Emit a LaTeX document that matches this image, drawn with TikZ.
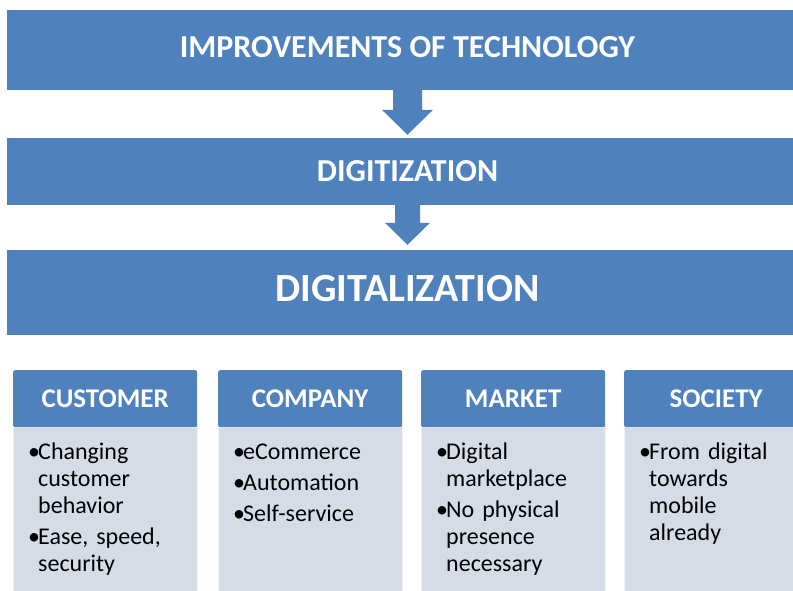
\documentclass[tikz,border=0pt]{standalone}
\usepackage{fontspec}
\setmainfont{Carlito}
\usetikzlibrary{calc}
\definecolor{bblue}{HTML}{4F81BD}
\definecolor{blight}{HTML}{D6DCE6}
\definecolor{bedge}{HTML}{EEF1F6}
\newcommand\blockarrow[5]{% from, to, shaft width, head width, head length
  \fill[bblue] ($(#1)+(-#3/2,0)$) -- ($(#2)+(-#3/2,-#5)$) -- ($(#2)+(-#4/2,-#5)$) -- (#2)
    -- ($(#2)+(#4/2,-#5)$) -- ($(#2)+(#3/2,-#5)$) -- ($(#1)+(#3/2,0)$) -- cycle;}
\newcommand\bul{\makebox[10pt][l]{•}}
\newcommand\ind{\hspace*{10pt}}
\begin{document}
\begin{tikzpicture}[x=1pt,y=-1pt,
  bar/.style={fill=bblue, draw=none, inner sep=0pt, minimum width=801pt},
  bartext/.style={inner sep=0pt, text=white},
  head/.style={fill=bblue, draw=none, rounded corners=2pt, inner sep=0pt, text=white,
    minimum width=184pt, minimum height=57pt, anchor=north west,
    font=\fontsize{27}{30}\selectfont\bfseries},
  body/.style={fill=blight, draw=bedge, line width=1pt, inner sep=0pt,
    minimum width=184pt, minimum height=180pt, anchor=north west},
  btext/.style={anchor=base west, inner sep=0pt, text width=172pt, align=left,
    text=black, font=\fontsize{24}{27}\selectfont}]
\useasboundingbox (0,0) rectangle (793,591);
\fill[white] (0,0) rectangle (793,591);
% bars
\node[bar, minimum height=80pt] (tech) at (407.5,50) {};
\node[bar, minimum height=67pt] (digz) at (407.5,171.5) {};
\node[bar, minimum height=85pt] (digl) at (407.5,292.5) {};
\node[bartext, font=\fontsize{32}{35}\selectfont\bfseries] (techt) at ($(tech.center)+(0,-2.5)$) {IMPROVEMENTS OF TECHNOLOGY};
\node[bartext, font=\fontsize{32}{35}\selectfont\bfseries] (digzt) at ($(digz.center)+(0,-0.5)$) {DIGITIZATION};
\node[bartext, font=\fontsize{40}{44}\selectfont\bfseries] (diglt) at ($(digl.center)+(0,-4)$) {DIGITALIZATION};
% arrows
\coordinate (a1s) at (tech.south);
\coordinate (a1e) at ($(digz.north)+(0,-3)$);
\blockarrow{a1s}{a1e}{29}{51}{25}
\coordinate (a2s) at (digz.south);
\coordinate (a2e) at ($(digl.north)+(0,-5)$);
\blockarrow{a2s}{a2e}{25}{45}{22}
% columns
\node[body] (b1) at (13,427) {};
\node[body] (b2) at (218,427) {};
\node[body] (b3) at (421,427) {};
\node[body] (b4) at (624,427) {};
\node[head] (h1) at (13,370) {CUSTOMER};
\node[head] (h2) at (218,370) {COMPANY};
\node[head] (h3) at (421,370) {MARKET};
\node[head] (h4) at (624,370) {SOCIETY};
\node[btext] (t1) at ($(b1.north west)+(15,32)$) {%
  \bul Changing\\\ind customer\\\ind behavior\\[4pt]\bul Ease, speed,\\\ind security};
\node[btext] (t2) at ($(b2.north west)+(15,32)$) {%
  \bul eCommerce\\[4pt]\bul Automation\\[4pt]\bul Self-service};
\node[btext] (t3) at ($(b3.north west)+(15,32)$) {%
  \bul Digital\\\ind marketplace\\[4pt]\bul No physical\\\ind presence\\\ind necessary};
\node[btext] (t4) at ($(b4.north west)+(15,32)$) {%
  \bul From digital\\\ind towards\\\ind mobile\\\ind already};
\end{tikzpicture}
\end{document}
